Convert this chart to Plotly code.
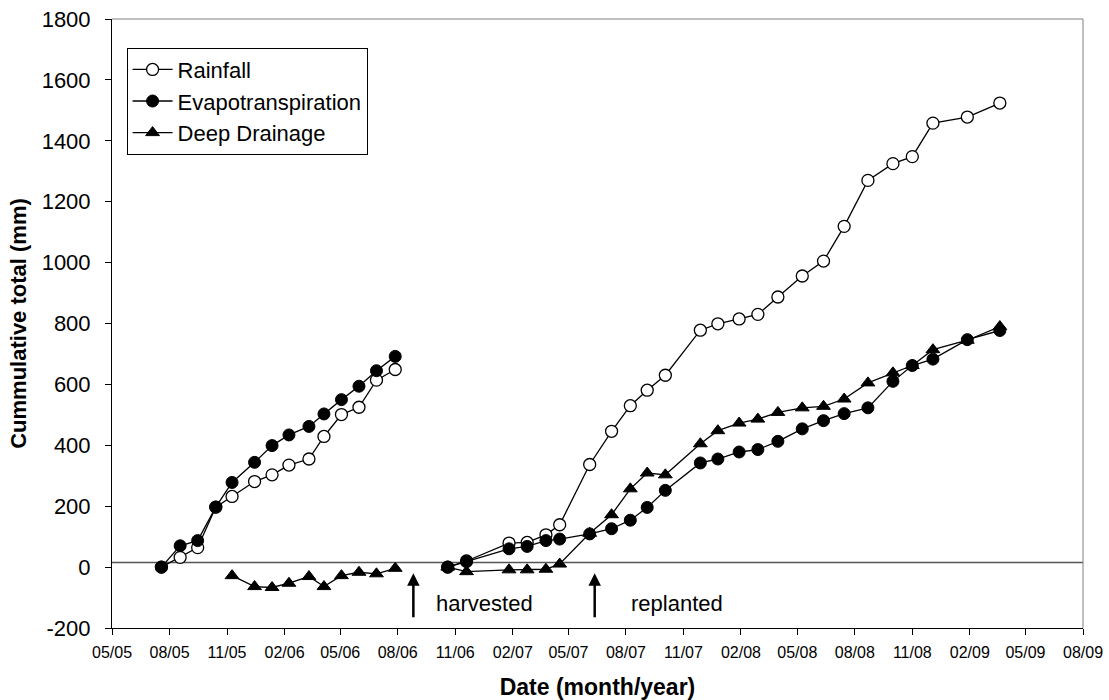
import plotly.graph_objects as go
import pandas as pd

# ---------------- data ----------------
dates_2005_06 = ['2005-07-19', '2005-08-18', '2005-09-15', '2005-10-14', '2005-11-09',
                 '2005-12-15', '2006-01-12', '2006-02-08', '2006-03-12', '2006-04-05',
                 '2006-05-03', '2006-05-31', '2006-06-28', '2006-07-28']
rain_2005_06 = [0, 32, 64, 197, 232, 281, 303, 335, 355, 429, 501, 525, 614, 649]
et_2005_06 = [0, 70, 87, 197, 278, 344, 399, 434, 462, 503, 550, 594, 645, 692]
dd_dates_2005_06 = dates_2005_06[4:]
dd_2005_06 = [-28, -64, -67, -53, -31, -64, -28, -17, -22, -4]

dates_2006_09 = ['2006-10-20', '2006-11-19', '2007-01-26', '2007-02-24', '2007-03-26',
                 '2007-04-17', '2007-06-04', '2007-07-09', '2007-08-08', '2007-09-04',
                 '2007-10-03', '2007-11-28', '2007-12-26', '2008-01-29', '2008-02-28',
                 '2008-03-31', '2008-05-09', '2008-06-12', '2008-07-15', '2008-08-22',
                 '2008-10-01', '2008-11-01', '2008-12-04', '2009-01-28', '2009-03-21']
rain_2006_09 = [0, 20, 79, 81, 106, 139, 337, 446, 530, 581, 630, 778, 799, 815, 830,
                887, 956, 1005, 1119, 1270, 1325, 1348, 1458, 1478, 1524]
et_2006_09 = [0, 18, 60, 68, 87, 92, 109, 126, 154, 196, 252, 342, 355, 378, 386,
              413, 454, 481, 504, 523, 610, 662, 683, 747, 777]
dd_2006_09 = [0, -15, -9, -9, -7, 10, 111, 172, 257, 309, 303, 405, 448, 473, 486,
              508, 523, 528, 552, 605, 638, 662, 714, 745, 790]

event_labels = ['harvested', 'replanted']
event_dates = ['2006-08-26', '2007-06-12']

tick_labels = ['05/05', '08/05', '11/05', '02/06', '05/06', '08/06', '11/06', '02/07',
               '05/07', '08/07', '11/07', '02/08', '05/08', '08/08', '11/08', '02/09',
               '05/09', '08/09']
y_ticks = [-200, 0, 200, 400, 600, 800, 1000, 1200, 1400, 1600, 1800]
reference_level = 15

# ---------------- figure ----------------
FONT = 'Liberation Sans, Arial, sans-serif'
tick_vals = [pd.to_datetime('01/' + t, format='%d/%m/%y') for t in tick_labels]


def joined(x1, y1, x2, y2):
    return list(x1) + [None] + list(x2), list(y1) + [None] + list(y2)


fig = go.Figure()
line = dict(color='black', width=1.3)

x, y = joined(dates_2005_06, rain_2005_06, dates_2006_09, rain_2006_09)
fig.add_trace(go.Scatter(x=x, y=y, name='Rainfall', mode='lines+markers', line=line,
                         marker=dict(symbol='circle', size=12, color='white',
                                     line=dict(color='black', width=1.3))))
x, y = joined(dates_2005_06, et_2005_06, dates_2006_09, et_2006_09)
fig.add_trace(go.Scatter(x=x, y=y, name='Evapotranspiration', mode='lines+markers', line=line,
                         marker=dict(symbol='circle', size=12, color='black',
                                     line=dict(color='black', width=1))))
x, y = joined(dd_dates_2005_06, dd_2005_06, dates_2006_09, dd_2006_09)
fig.add_trace(go.Scatter(x=x, y=y, name='Deep Drainage', mode='lines+markers', line=line,
                         marker=dict(symbol='triangle-up', size=12, color='black',
                                     line=dict(color='black', width=1))))

# reference line
fig.add_shape(type='line', xref='paper', yref='y', x0=0, x1=1,
              y0=reference_level, y1=reference_level,
              line=dict(color='#555555', width=1.6), layer='below')
# plot-area frame (top and right)
fig.add_shape(type='line', xref='paper', yref='paper', x0=0, x1=1, y0=1, y1=1,
              line=dict(color='#808080', width=1))
fig.add_shape(type='line', xref='paper', yref='paper', x0=1, x1=1, y0=0, y1=1,
              line=dict(color='#808080', width=1))

text_shifts = [21, 34]
for lab, d, sh in zip(event_labels, event_dates, text_shifts):
    fig.add_annotation(x=d, y=-20, ax=d, ay=-170, xref='x', yref='y', axref='x', ayref='y',
                       text='', showarrow=True, arrowhead=2, arrowsize=1, arrowwidth=2.5,
                       arrowcolor='black')
    fig.add_annotation(x=d, y=-118, xref='x', yref='y', text=lab, showarrow=False,
                       xanchor='left', xshift=sh,
                       font=dict(family=FONT, size=22, color='black'))

fig.update_layout(
    width=1109, height=700,
    margin=dict(l=112, r=26, t=19, b=72),
    paper_bgcolor='white', plot_bgcolor='white',
    font=dict(family=FONT, color='black'),
    showlegend=True,
    legend=dict(x=0.015, y=0.953, xanchor='left', yanchor='top',
                bordercolor='black', borderwidth=1, bgcolor='white', itemwidth=40,
                font=dict(family=FONT, size=22, color='black')),
    xaxis=dict(type='date', range=[tick_vals[0], tick_vals[-1]],
               tickvals=tick_vals, ticktext=tick_labels, automargin=False,
               showgrid=False, zeroline=False, showline=True, linecolor='black', linewidth=1,
               ticks='outside', ticklen=6, tickcolor='black',
               tickfont=dict(family=FONT, size=16, color='black'),
               ticklabelstandoff=4,
               title=dict(text='<b>Date (month/year)</b>', standoff=18,
                          font=dict(family=FONT, size=23, color='black'))),
    yaxis=dict(range=[-200, 1800], tickvals=y_ticks, ticktext=[str(v) for v in y_ticks],
               automargin=False,
               showgrid=False, zeroline=False, showline=True, linecolor='black', linewidth=1,
               ticks='outside', ticklen=6, tickcolor='black',
               tickfont=dict(family=FONT, size=22, color='black'),
               ticklabelstandoff=10,
               title=dict(text='<b>Cummulative total (mm)</b>', standoff=8,
                          font=dict(family=FONT, size=22, color='black'))),
)

fig.write_html('out.html')
